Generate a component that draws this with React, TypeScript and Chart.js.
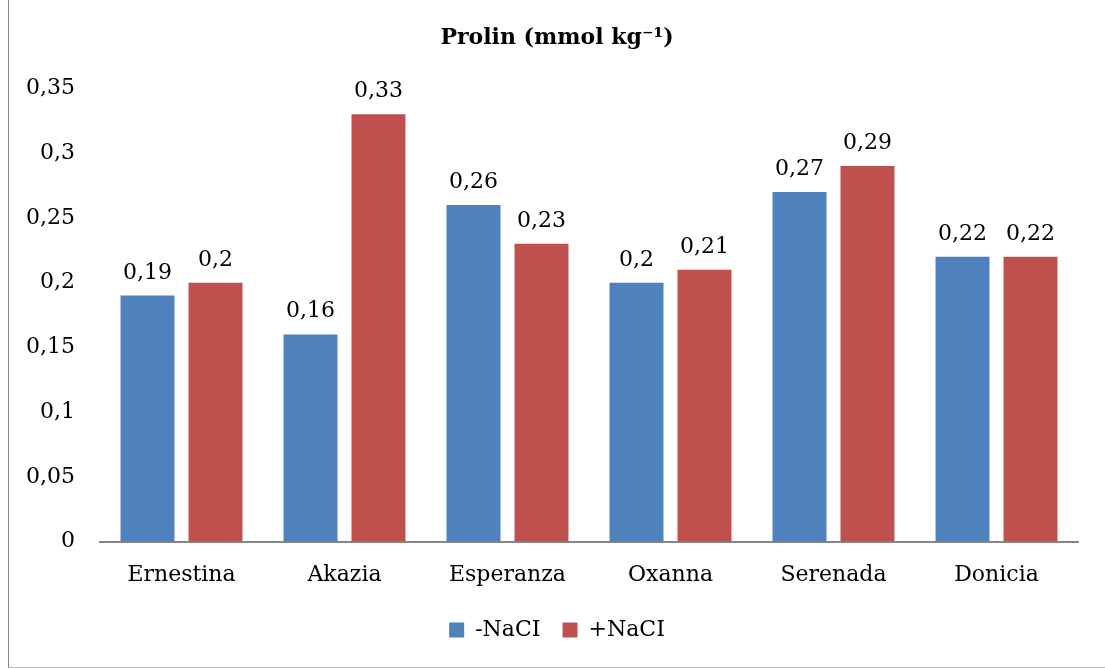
import React, { useEffect, useRef } from "react";
import { Chart, registerables } from "chart.js";

Chart.register(...registerables);

const categories = ["Ernestina", "Akazia", "Esperanza", "Oxanna", "Serenada", "Donicia"];
const minusNaCl = [0.19, 0.16, 0.26, 0.2, 0.27, 0.22];
const plusNaCl = [0.2, 0.33, 0.23, 0.21, 0.29, 0.22];
const seriesNames = ["-NaCI", "+NaCI"];
const titleText = "Prolin (mmol kg\u207B\u00B9)";

const FONT = "'DejaVu Serif', serif";
const fmt = (v: number) => Number(v.toFixed(2)).toString().replace(".", ",");

const valueLabels = {
  id: "valueLabels",
  afterDatasetsDraw(chart: any) {
    const ctx = chart.ctx;
    ctx.save();
    ctx.font = `22px ${FONT}`;
    ctx.fillStyle = "#000";
    ctx.textAlign = "center";
    ctx.textBaseline = "alphabetic";
    chart.data.datasets.forEach((ds: any, i: number) => {
      const meta = chart.getDatasetMeta(i);
      meta.data.forEach((bar: any, j: number) => {
        ctx.fillText(fmt(ds.data[j]), bar.x, bar.y - 17);
      });
    });
    ctx.restore();
  },
};

export default function App() {
  const ref = useRef<HTMLCanvasElement>(null);
  useEffect(() => {
    if (!ref.current) return;
    const chart = new Chart(ref.current, {
      type: "bar",
      data: {
        labels: categories,
        datasets: [
          { label: seriesNames[0], data: minusNaCl, backgroundColor: "#4F81BD" },
          { label: seriesNames[1], data: plusNaCl, backgroundColor: "#C0504D" },
        ],
      },
      options: {
        animation: false,
        responsive: false,
        maintainAspectRatio: false,
        categoryPercentage: 0.834,
        barPercentage: 0.794,
        layout: { padding: { left: 0, right: 0, top: 0, bottom: 16 } },
        plugins: {
          title: {
            display: true,
            text: titleText,
            color: "#000",
            font: { family: FONT, size: 22, weight: "bold" },
            padding: { top: 25, bottom: 37 },
          },
          legend: {
            display: true,
            position: "bottom",
            labels: {
              color: "#000",
              font: { family: FONT, size: 22 },
              boxWidth: 15,
              boxHeight: 15,
              padding: 22,
            },
          },
          tooltip: { enabled: false },
        },
        scales: {
          x: {
            grid: { display: false },
            border: { display: true, color: "#868686", width: 2 },
            ticks: { color: "#000", font: { family: FONT, size: 22 }, padding: 12, maxRotation: 0 },
            afterFit: (s: any) => {
              s.height = s.height - 3;
            },
          },
          y: {
            min: 0,
            max: 0.35,
            grid: { display: false, drawTicks: false },
            border: { display: false },
            ticks: {
              stepSize: 0.05,
              color: "#000",
              font: { family: FONT, size: 22 },
              padding: 25,
              callback: (v: any) => fmt(Number(v)),
            },
            afterFit: (s: any) => {
              s.width = 91;
            },
          },
          yRight: {
            position: "right",
            display: true,
            grid: { display: false, drawTicks: false },
            border: { display: false },
            ticks: { display: false },
            afterFit: (s: any) => {
              s.width = 27;
            },
          },
        },
      },
      plugins: [valueLabels],
    } as any);
    return () => chart.destroy();
  }, []);
  return (
    <div
      style={{
        position: "fixed",
        left: 8,
        top: 0,
        width: 1096,
        height: 667,
        borderLeft: "1px solid #8a8a8a",
        borderBottom: "1px solid #bdbdbd",
        background: "#fff",
      }}
    >
      <canvas ref={ref} width={1096} height={667} style={{ display: "block" }} />
    </div>
  );
}
